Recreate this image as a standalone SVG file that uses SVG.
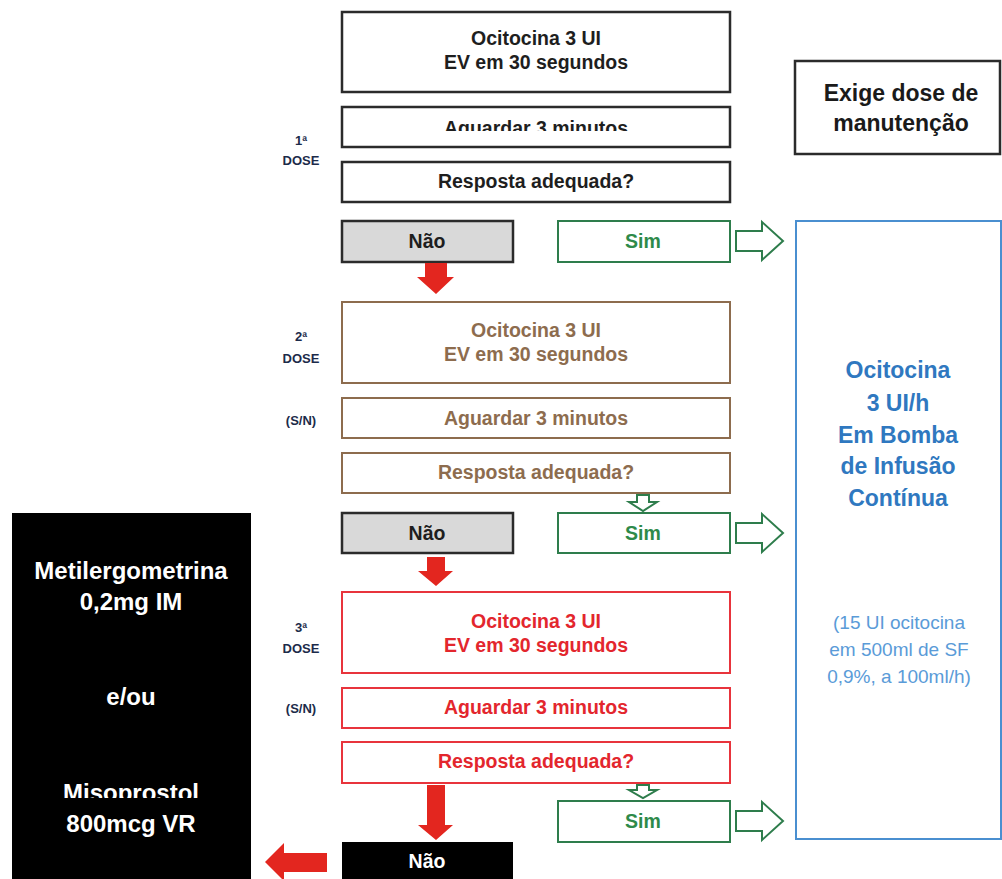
<svg xmlns="http://www.w3.org/2000/svg" width="1002" height="879" viewBox="0 0 1002 879">
<style>
text{font-family:"Liberation Sans",Arial,sans-serif;font-weight:bold;text-anchor:middle}
.t{font-size:19.5px}
.bk{fill:#fff;stroke:#2b2b2b;stroke-width:2.5}
.br{fill:#fff;stroke:#8d6c4e;stroke-width:2}
.rd{fill:#fff;stroke:#e8343c;stroke-width:2}
.gn{fill:#fff;stroke:#2e7d4c;stroke-width:2}
.no{fill:#d9d9d9;stroke:#2b2b2b;stroke-width:2.5}
.cbk{fill:#1e1e1e}
.cbr{fill:#8d6c4e}
.crd{fill:#e3262d}
.cgn{fill:#2e8a4a}
.dose{font-size:13px;fill:#1c2b4a}
.ra{fill:#e3261f}
.ga{fill:#fff;stroke:#2e7d4c;stroke-width:2;stroke-linejoin:miter}
.blue{fill:#2f78c0;font-size:23px}
.sblue{fill:#5a9bd8;font-size:19px;font-weight:normal}
.wt{fill:#fff;font-size:24px}
</style>
<defs>
<clipPath id="clipA"><rect x="342" y="107" width="388" height="24"/></clipPath>
<clipPath id="clipM"><rect x="12" y="760" width="239" height="38"/></clipPath>
</defs>

<g id="dose-labels">
<text class="dose" x="301" y="145">1ª</text>
<text class="dose" x="301" y="165">DOSE</text>
<text class="dose" x="301" y="341">2ª</text>
<text class="dose" x="301" y="363">DOSE</text>
<text class="dose" x="301" y="425">(S/N)</text>
<text class="dose" x="301" y="632">3ª</text>
<text class="dose" x="301" y="653">DOSE</text>
<text class="dose" x="301" y="713">(S/N)</text>
</g>

<g id="d1-ocitocina">
<rect class="bk" x="342" y="12" width="388" height="80"/>
<text class="t cbk" x="536" y="45">Ocitocina 3 UI</text>
<text class="t cbk" x="536" y="69">EV em 30 segundos</text>
</g>
<g id="d1-aguardar">
<rect class="bk" x="342" y="107" width="388" height="40"/>
<text class="t cbk" x="536" y="135" clip-path="url(#clipA)">Aguardar 3 minutos</text>
</g>
<g id="d1-resposta">
<rect class="bk" x="342" y="162" width="388" height="40"/>
<text class="t cbk" x="536" y="188">Resposta adequada?</text>
</g>
<g id="d1-nao">
<rect class="no" x="342" y="221" width="171" height="41"/>
<text class="t cbk" x="427" y="248">Não</text>
</g>
<g id="d1-sim">
<rect class="gn" x="558" y="221" width="172" height="41"/>
<text class="t cgn" x="643" y="248">Sim</text>
</g>

<g id="d2-ocitocina">
<rect class="br" x="342" y="302" width="388" height="81"/>
<text class="t cbr" x="536" y="337">Ocitocina 3 UI</text>
<text class="t cbr" x="536" y="361">EV em 30 segundos</text>
</g>
<g id="d2-aguardar">
<rect class="br" x="342" y="398" width="388" height="40"/>
<text class="t cbr" x="536" y="425">Aguardar 3 minutos</text>
</g>
<g id="d2-resposta">
<rect class="br" x="342" y="453" width="388" height="40"/>
<text class="t cbr" x="536" y="479">Resposta adequada?</text>
</g>
<g id="d2-nao">
<rect class="no" x="342" y="513" width="171" height="40"/>
<text class="t cbk" x="427" y="540">Não</text>
</g>
<g id="d2-sim">
<rect class="gn" x="558" y="513" width="172" height="40"/>
<text class="t cgn" x="643" y="540">Sim</text>
</g>

<g id="d3-ocitocina">
<rect class="rd" x="342" y="592" width="388" height="81"/>
<text class="t crd" x="536" y="628">Ocitocina 3 UI</text>
<text class="t crd" x="536" y="652">EV em 30 segundos</text>
</g>
<g id="d3-aguardar">
<rect class="rd" x="342" y="688" width="388" height="40"/>
<text class="t crd" x="536" y="714">Aguardar 3 minutos</text>
</g>
<g id="d3-resposta">
<rect class="rd" x="342" y="742" width="388" height="41"/>
<text class="t crd" x="536" y="768">Resposta adequada?</text>
</g>
<g id="d3-sim">
<rect class="gn" x="558" y="801" width="172" height="41"/>
<text class="t cgn" x="643" y="828">Sim</text>
</g>
<g id="d3-nao">
<rect x="342" y="842" width="171" height="40" fill="#000"/>
<text class="t" fill="#fff" x="427" y="868">Não</text>
</g>

<g id="exige">
<rect class="bk" x="795" y="61" width="205" height="93"/>
<text x="901" y="101" font-size="23" fill="#1a1a1a">Exige dose de</text>
<text x="901" y="131" font-size="23" fill="#1a1a1a">manutenção</text>
</g>

<g id="manutencao">
<rect x="796" y="221" width="205" height="618" fill="#fff" stroke="#4a8fd0" stroke-width="2"/>
<text class="blue" x="898" y="378">Ocitocina</text>
<text class="blue" x="898" y="411">3 UI/h</text>
<text class="blue" x="898" y="443">Em Bomba</text>
<text class="blue" x="898" y="474">de Infusão</text>
<text class="blue" x="898" y="506">Contínua</text>
<text class="sblue" x="899" y="629">(15 UI ocitocina</text>
<text class="sblue" x="899" y="656">em 500ml de SF</text>
<text class="sblue" x="899" y="683">0,9%, a 100ml/h)</text>
</g>

<g id="segunda-linha">
<rect x="12" y="513" width="239" height="370" fill="#000"/>
<text class="wt" x="131" y="579">Metilergometrina</text>
<text class="wt" x="131" y="610">0,2mg IM</text>
<text class="wt" x="131" y="705">e/ou</text>
<text class="wt" x="131" y="801" clip-path="url(#clipM)">Misoprostol</text>
<text class="wt" x="131" y="832">800mcg VR</text>
</g>

<g id="connectors">
<polygon class="ra" points="425,263 447,263 447,277 454,277 436,294 417,277 425,277"/>
<polygon class="ra" points="427,557 445,557 445,571 453,571 436,586 418,571 427,571"/>
<polygon class="ra" points="427,785 445,785 445,825 453,825 436,840 418,825 427,825"/>
<polygon class="ra" points="327,853 327,872 284,872 284,881 265,862 284,843 284,853"/>
<polygon class="ga" points="736,231 762,231 762,222 783,241 762,260 762,251 736,251"/>
<polygon class="ga" points="736,523 762,523 762,514 783,533 762,552 762,543 736,543"/>
<polygon class="ga" points="736,811 762,811 762,802 783,821 762,840 762,831 736,831"/>
<polygon class="ga" points="637,495 649,495 649,502 657,502 643,511 629,502 637,502"/>
<polygon class="ga" points="637,785 649,785 649,790 657,790 643,798 629,790 637,790"/>
</g>
</svg>
